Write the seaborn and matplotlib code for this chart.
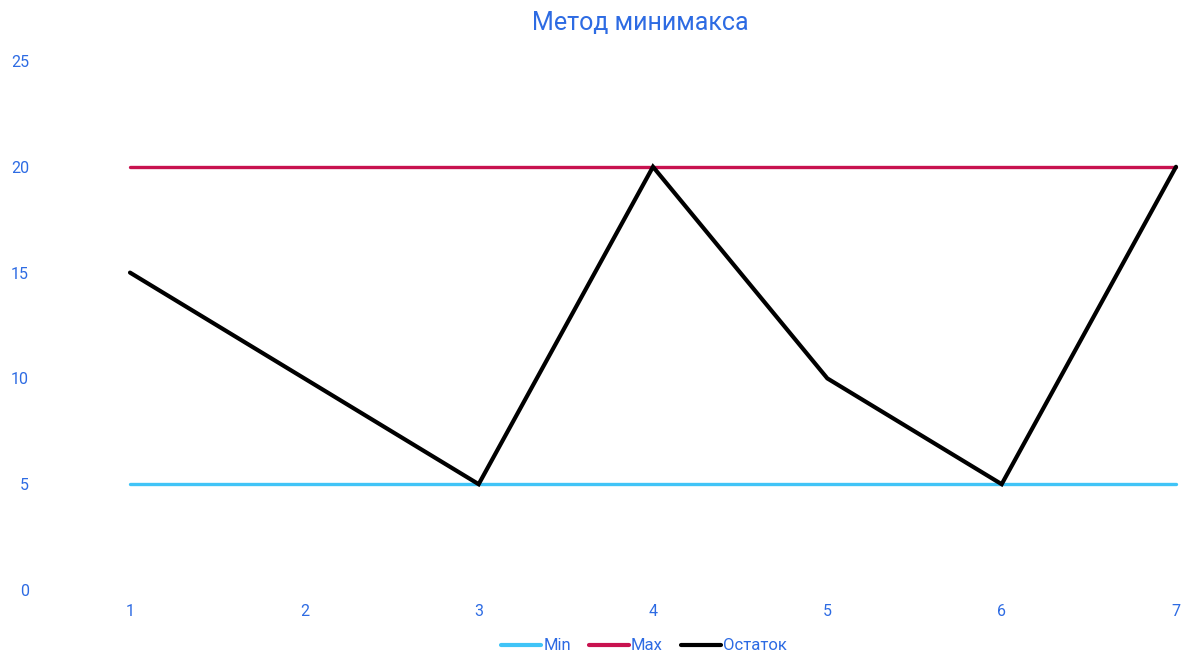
import matplotlib
matplotlib.use("Agg")
import matplotlib.pyplot as plt
import seaborn as sns
import pandas as pd

x_vals = [1, 2, 3, 4, 5, 6, 7]
min_vals = [5, 5, 5, 5, 5, 5, 5]
max_vals = [20, 20, 20, 20, 20, 20, 20]
rest_vals = [15, 10, 5, 20, 10, 5, 20]
series_names = ["Min", "Max", "Остаток"]
y_ticks = [0, 5, 10, 15, 20, 25]
title = "Метод минимакса"

colors = {"Min": "#40c4f7", "Max": "#c8124f", "Остаток": "#000000"}
text_color = "#2d6be3"

df = pd.concat([
    pd.DataFrame({"x": x_vals, "y": min_vals, "s": "Min"}),
    pd.DataFrame({"x": x_vals, "y": max_vals, "s": "Max"}),
    pd.DataFrame({"x": x_vals, "y": rest_vals, "s": "Остаток"}),
])

sns.set_style("white")
plt.rcParams["font.family"] = ["Roboto", "DejaVu Sans"]

W, H = 1191, 654
fig = plt.figure(figsize=(W / 100, H / 100), dpi=100)
ax_left, ax_right = 40, 1185
ax_top, ax_bot = 61, 590
ax = fig.add_axes([ax_left / W, 1 - ax_bot / H, (ax_right - ax_left) / W, (ax_bot - ax_top) / H])

sns.lineplot(data=df, x="x", y="y", hue="s", hue_order=series_names, palette=colors,
             ax=ax, legend=False, estimator=None, sort=False)
for line, name in zip(ax.get_lines(), series_names):
    line.set_linewidth(3.0 if name == "Остаток" else 2.4)
    line.set_solid_joinstyle("miter")

px_per_unit = (1176 - 130) / 6
ax.set_xlim(1 - (130 - ax_left) / px_per_unit, 7 + (ax_right - 1176) / px_per_unit)
ax.set_ylim(0, 25)
ax.set_xticks(x_vals)
ax.set_yticks(y_ticks)
ax.tick_params(axis="both", length=0, labelsize=11.5, labelcolor=text_color)
ax.tick_params(axis="y", pad=8)
ax.tick_params(axis="x", pad=10)
ax.set_xlabel("")
ax.set_ylabel("")
for sp in ax.spines.values():
    sp.set_visible(False)
ax.grid(False)

fig.text(640 / W, 1 - 23 / H, title, ha="center", va="center", fontsize=18, color=text_color)

from matplotlib.lines import Line2D
handles = [Line2D([], [], color=colors[n], lw=3) for n in series_names]
leg = fig.legend(handles, series_names, loc="center", bbox_to_anchor=(644 / W, 1 - 646 / H),
                 ncol=3, frameon=False, fontsize=12, handlelength=2.4, handletextpad=0.1,
                 columnspacing=1.1)
for t in leg.get_texts():
    t.set_color(text_color)

fig.savefig("out.png", dpi=100)
